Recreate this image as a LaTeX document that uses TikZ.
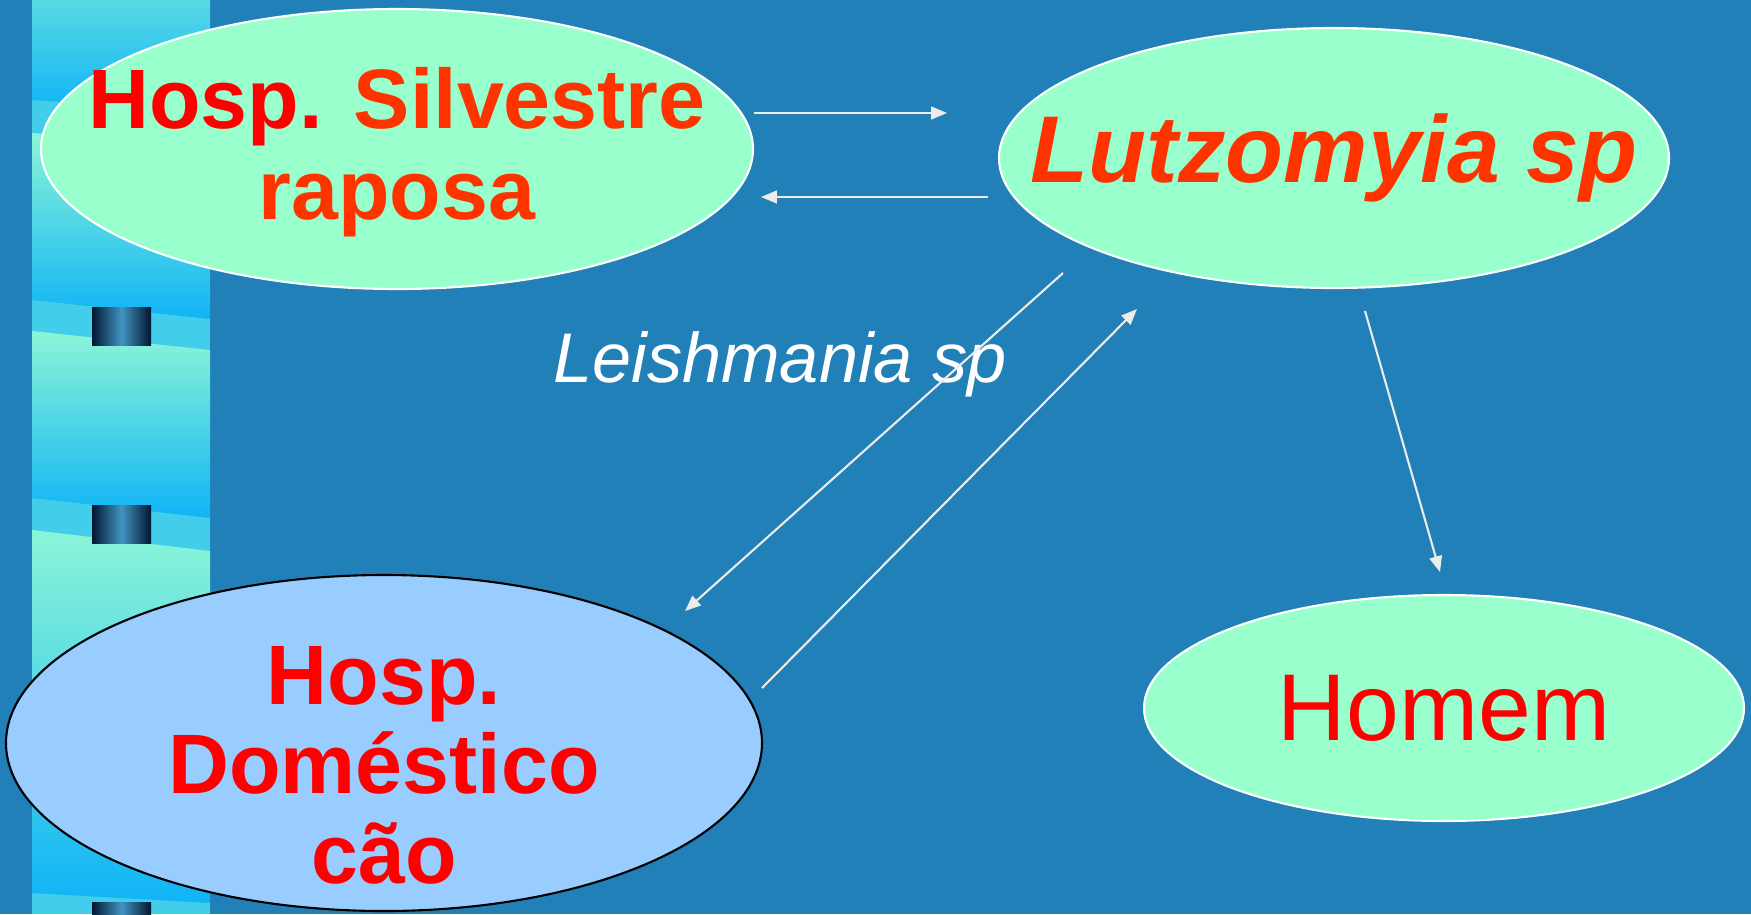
\documentclass[tikz,border=0pt]{standalone}
\usepackage{fontspec}
\setmainfont{Liberation Sans}
\usetikzlibrary{shapes.geometric, arrows.meta}
\definecolor{slidebg}{RGB}{33,128,183}
\definecolor{mint}{RGB}{153,255,204}
\definecolor{skyblue}{RGB}{153,204,255}
\definecolor{orangered}{RGB}{255,51,0}
\definecolor{barcyan}{RGB}{16,180,246}
\definecolor{barmint}{RGB}{140,245,215}
\definecolor{bardark}{RGB}{0,22,48}
\tikzset{
host/.style={ellipse, fill=mint, draw=white, line width=0.6pt, inner sep=0pt}, % light green ellipses
home/.style={host, fill=skyblue, draw=black}, % the blue one, with a black rim
hosttext/.style={align=center, text=red, font=\bfseries\fontsize{24}{25.5}\selectfont}, % red bold names
flow/.style={-{Triangle[length=4.5pt,width=3.6pt]}, draw=white!85!gray, fill=white, line width=0.6pt}, % thin white arrows
}

\begin{document}
\begin{tikzpicture}[x=0.1mm, y=-0.1mm]
    \fill[slidebg] (0,0) rectangle (1751,914);
    \useasboundingbox (0,0) rectangle (1751,914);
    % side bar
    \fill[barcyan!60!barmint] (32,0) rectangle (210,914);
    \shade[top color=barmint!60!barcyan, bottom color=barcyan] (32,-5) -- (210,-5) -- (210,112) -- (32,100) -- cycle;
    \foreach \ta/\tb/\ba/\bb in {133/145/300/319, 331/350/498/518, 530/551/893/903}
        \shade[top color=barmint, bottom color=barcyan] (32,\ta) -- (210,\tb) -- (210,\bb) -- (32,\ba) -- cycle;
    \foreach \y in {307,505,902}
        \shade[left color=bardark, right color=bardark, middle color=slidebg!85!white] (92,\y) rectangle (151,\y+38);

    \node[host, minimum width=7.12cm, minimum height=2.80cm] (silv) at (397,149) {};
    \node[host, minimum width=6.70cm, minimum height=2.60cm] (lutz) at (1334,158) {};
    \node[host, minimum width=6.00cm, minimum height=2.26cm] (homem) at (1444,708) {};
    \node[home, minimum width=7.56cm, minimum height=3.36cm] (dom) at (384,743) {};

    \node[hosttext, font=\bfseries\fontsize{24}{26}\selectfont] (silvtxt) at ([shift={(0,3)}]silv.center)
        {Hosp. \textcolor{orangered}{Silvestre}\\\textcolor{orangered}{raposa}};
    \node[text=orangered, font=\bfseries\itshape\fontsize{27}{30}\selectfont] (lutztxt) at (lutz.center) {Lutzomyia sp};
    \node[text=red, font=\fontsize{27}{30}\selectfont] (homemtxt) at (homem.center) {Homem};
    \node[hosttext] (domtxt) at ([shift={(0,22)}]dom.center) {Hosp.\\Doméstico\\cão};
    \node[anchor=base, text=white, font=\itshape\fontsize{20}{24}\selectfont] (leish) at (780,382) {Leishmania sp};

    \draw[flow] ([shift={(357,-36)}]silv.center) -- ([shift={(-387,-45)}]lutz.center);
    \draw[flow] ([shift={(-346,39)}]lutz.center) -- ([shift={(364,48)}]silv.center);
    \draw[flow] ([shift={(-271,115)}]lutz.center) -- ([shift={(301,-132)}]dom.center);
    \draw[flow] ([shift={(378,-55)}]dom.center) -- ([shift={(-197,151)}]lutz.center);
    \draw[flow] ([shift={(31,153)}]lutz.center) -- ([shift={(-4,-136)}]homem.center);
\end{tikzpicture}
\end{document}
